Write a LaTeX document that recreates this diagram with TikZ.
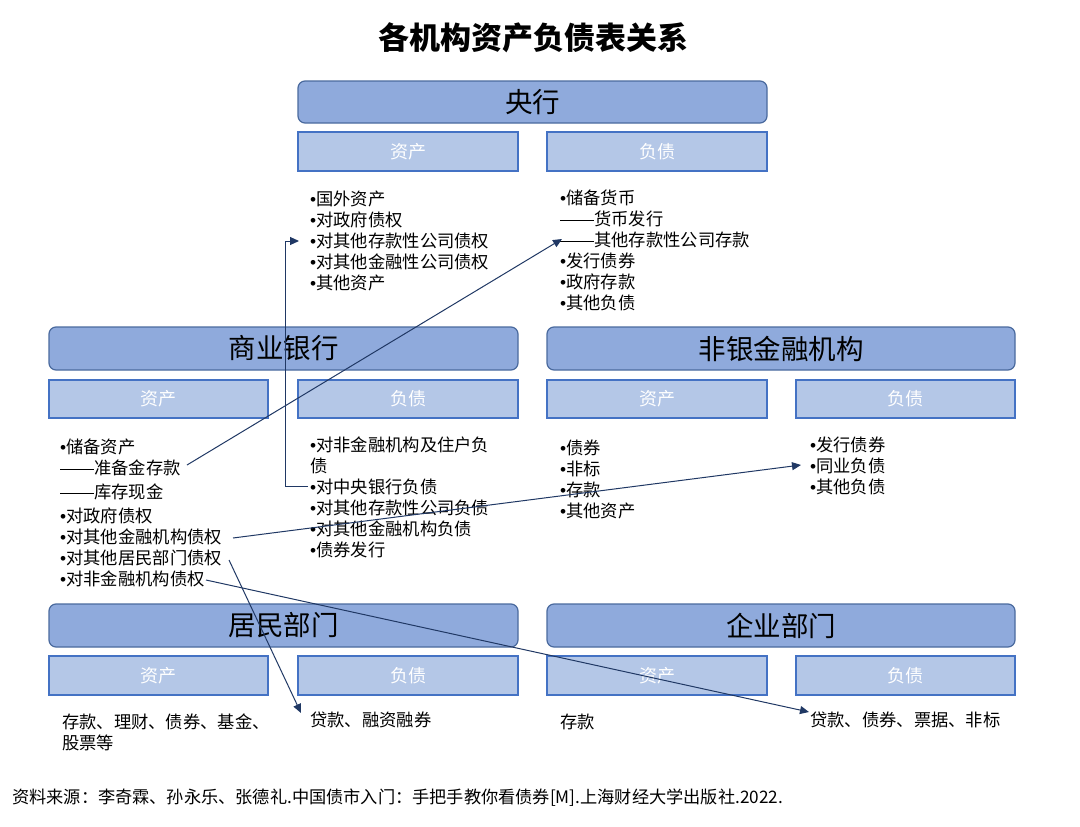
\documentclass[tikz,border=0pt]{standalone}
\usepackage{fontspec}
\setmainfont{Noto Sans CJK SC}
\newfontfamily\latf{Liberation Sans}
\usetikzlibrary{arrows.meta}
\definecolor{hdr}{HTML}{8FAADC}
\definecolor{hdrb}{HTML}{4A6A9E}
\definecolor{sub}{HTML}{B4C7E7}
\definecolor{subb}{HTML}{4472C4}
\definecolor{arr}{HTML}{203864}
\newcommand{\bl}{{\latf •}}
\newcommand{\dsh}{\rule[0.3em]{34pt}{0.6pt}}
\tikzset{
  hdrbox/.style={draw=hdrb,fill=hdr,line width=1.2pt,rounded corners=7pt},
  subbox/.style={draw=subb,fill=sub,line width=1.2pt},
  hdrtxt/.style={font=\fontsize{27.5}{30}\selectfont},
  subtxt/.style={font=\fontsize{18}{22}\selectfont,text=white},
  lst/.style={anchor=north west,align=left,inner sep=0pt,font=\fontsize{17.3}{21}\selectfont},
  con/.style={draw=arr,line width=1pt,-{Triangle[length=9pt,width=8pt]}}
}
\begin{document}
\begin{tikzpicture}[x=1pt,y=-1pt]
\useasboundingbox (0,0) rectangle (1080,827);
\node[font=\fontsize{31}{34}\selectfont\bfseries] (title) at (533,38) {各机构资产负债表关系};
\newcommand{\hdr}[5]{\draw[hdrbox] (#1,#2) rectangle (#3,#4); \node[hdrtxt] at ({(#1+#3)/2},{(#2+#4)/2}) {#5};}
\newcommand{\sbx}[5]{\draw[subbox] (#1,#2) rectangle (#3,#4); \node[subtxt] at ({(#1+#3)/2},{(#2+#4)/2}) {#5};}
\hdr{298}{81}{767}{123}{央行}
\sbx{298}{132}{518}{171}{资产}
\sbx{547}{132}{767}{171}{负债}
\hdr{49}{327}{518}{370}{商业银行}
\hdr{547}{327}{1015}{370}{非银金融机构}
\sbx{49}{380}{268}{418}{资产}
\sbx{298}{380}{518}{418}{负债}
\sbx{547}{380}{767}{418}{资产}
\sbx{796}{380}{1015}{418}{负债}
\hdr{49}{604}{518}{647}{居民部门}
\hdr{547}{604}{1015}{647}{企业部门}
\sbx{49}{656}{268}{695}{资产}
\sbx{298}{656}{518}{695}{负债}
\sbx{547}{656}{767}{695}{资产}
\sbx{796}{656}{1015}{695}{负债}
% lists
\node[lst] (cba) at (310,191) {\bl 国外资产\\\bl 对政府债权\\\bl 对其他存款性公司债权\\\bl 对其他金融性公司债权\\\bl 其他资产};
\node[lst] (cbl) at (560,190) {\bl 储备货币\\\dsh 货币发行\\\dsh 其他存款性公司存款\\\bl 发行债券\\\bl 政府存款\\\bl 其他负债};
\node[lst] (bka) at (60,439) {\bl 储备资产\\\dsh 准备金存款\\[3pt]\dsh 库存现金\\[3pt]\bl 对政府债权\\\bl 对其他金融机构债权\\\bl 对其他居民部门债权\\\bl 对非金融机构债权};
\node[lst] (bkl) at (310,437) {\bl 对非金融机构及住户负\\债\\\bl 对中央银行负债\\\bl 对其他存款性公司负债\\\bl 对其他金融机构负债\\\bl 债券发行};
\node[lst] (nba) at (560,440) {\bl 债券\\\bl 非标\\\bl 存款\\\bl 其他资产};
\node[lst] (nbl) at (810,437) {\bl 发行债券\\\bl 同业负债\\\bl 其他负债};
\node[lst] (hha) at (62,714) {存款、理财、债券、基金、\\股票等};
\node[lst] (hhl) at (310,712) {贷款、融资融券};
\node[lst] (ena) at (560,714) {存款};
\node[lst] (enl) at (810,712) {贷款、债券、票据、非标};
\node[anchor=west,inner sep=0pt,font=\fontsize{17.2}{20}\selectfont] (src) at (12,798) {资料来源：李奇霖、孙永乐、张德礼.中国债市入门：手把手教你看债券[M].上海财经大学出版社.2022.};
\coordinate (a1) at (187,465);
\coordinate (b1) at (562,239);
\coordinate (a2) at (308,486);
\coordinate (b2) at (299,241);
\coordinate (a3) at (233,538);
\coordinate (b3) at (801,465);
\coordinate (a4) at (229,560);
\coordinate (b4) at (301,713);
\coordinate (a5) at (206,580);
\coordinate (b5) at (809,712);
\draw[con] (a1) -- (b1);
\draw[con] (a2) -- (285,486) -- (285,241) -- (b2);
\draw[con] (a3) -- (b3);
\draw[con] (a4) -- (b4);
\draw[con] (a5) -- (b5);
\end{tikzpicture}
\end{document}
